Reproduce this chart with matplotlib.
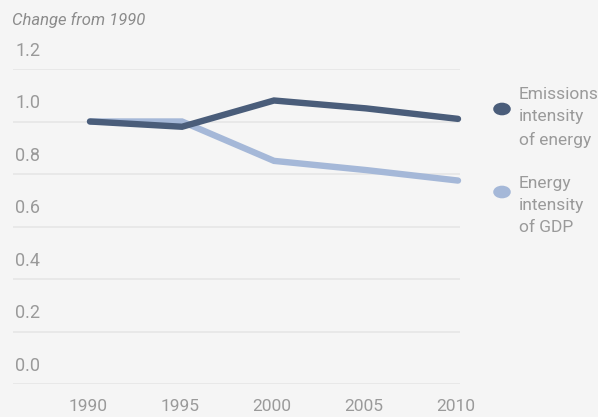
import matplotlib
matplotlib.use("Agg")
from matplotlib import pyplot as plt
from matplotlib import transforms

# data
years = [1990, 1995, 2000, 2005, 2010]
emissions_intensity = [1.00, 0.98, 1.08, 1.05, 1.01]
energy_intensity = [1.00, 1.00, 0.85, 0.815, 0.775]
y_ticks = [0.0, 0.2, 0.4, 0.6, 0.8, 1.0, 1.2]
series_labels = ["Emissions\nintensity\nof energy", "Energy\nintensity\nof GDP"]

W, H = 598, 417
BG = "#f5f5f5"
DARK = "#4a5d7a"
LIGHT = "#a5b8d8"
TEXT = "#9a9a9a"
GRID = "#e6e6e6"

plt.rcParams["font.family"] = ["Roboto", "DejaVu Sans"]


def fx(px):
    return px / W


def fy(py):
    return 1 - py / H


fig = plt.figure(figsize=(W / 100, H / 100), dpi=100, facecolor=BG)
ax = fig.add_axes([fx(13), fy(384), fx(460) - fx(13), fy(69) - fy(384)])
ax.set_facecolor(BG)

# x scale: 1990 at px 90, 2010 at px 458
per_px = 20 / (458 - 90)
ax.set_xlim(1990 - (90 - 13) * per_px, 2010 + (460 - 458) * per_px)
ax.set_ylim(0, 1.2)

for v in y_ticks:
    ax.axhline(v, color=GRID, lw=1.2, zorder=1)

ax.plot(years, energy_intensity, color=LIGHT, lw=4.6, solid_capstyle="round",
        solid_joinstyle="miter", clip_on=False, zorder=3)
ax.plot(years, emissions_intensity, color=DARK, lw=4.6, solid_capstyle="round",
        solid_joinstyle="miter", clip_on=False, zorder=4)

for s in ax.spines.values():
    s.set_visible(False)
ax.set_xticks([])
ax.set_yticks([])

# y labels sit above their gridlines
trans = transforms.blended_transform_factory(ax.transAxes, ax.transData)
for v in y_ticks:
    ax.annotate(f"{v:.1f}", xy=(0, v), xycoords=trans, xytext=(1.5, 6.5),
                textcoords="offset points", ha="left", va="bottom",
                fontsize=13, color=TEXT)

# x labels
for yr in years:
    ax.annotate(str(yr), xy=(yr, 0), xycoords="data", xytext=(-1.5, -10.5),
                textcoords="offset points", ha="center", va="top",
                fontsize=12.5, color=TEXT, annotation_clip=False)

fig.text(fx(12), fy(20), "Change from 1990", ha="left", va="center",
         fontsize=12, color="#8c8c8c", style="italic")

# legend
for lab, col, cy, ty in [(series_labels[0], DARK, 109, 87),
                         (series_labels[1], LIGHT, 192, 176)]:
    fig.patches.append(plt.Circle((fx(502), fy(cy)), 0.0135, color=col,
                                  transform=fig.transFigure, figure=fig))
    fig.text(fx(519), fy(ty), lab, ha="left", va="top", fontsize=12.5,
             color=TEXT, linespacing=1.6)

fig.savefig("out.png", dpi=100, facecolor=BG)
